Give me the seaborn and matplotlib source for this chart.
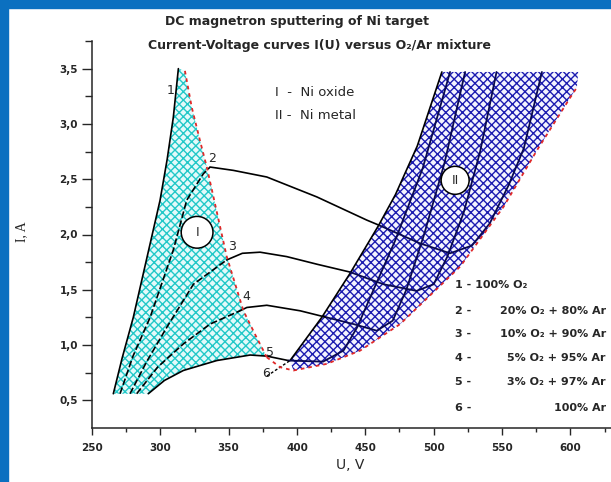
import matplotlib
matplotlib.use('Agg')
import matplotlib.pyplot as plt
import seaborn as sns
from matplotlib.patches import Rectangle

# ---------------- data ----------------
c1_x = [265.6, 272, 280.2, 290, 299.8, 305, 309.5, 313.2]
c1_y = [0.56, 0.88, 1.25, 1.78, 2.31, 2.68, 3.06, 3.50]

c2_dash_x = [270.5, 280, 292.5, 309.5, 319.3, 331.5, 336.4]
c2_dash_y = [0.56, 0.90, 1.25, 1.86, 2.31, 2.55, 2.61]
c2_solid_x = [336.4, 353.4, 377.9, 414.5, 451.1, 460.8]
c2_solid_y = [2.61, 2.58, 2.52, 2.34, 2.13, 2.08]
c2_metal_x = [460.8, 490, 512, 528, 541, 555, 566, 579.2]
c2_metal_y = [2.08, 1.92, 1.83, 1.90, 2.10, 2.45, 2.78, 3.47]

c3_dash_x = [277.8, 290, 304.7, 324.2, 348.6]
c3_dash_y = [0.56, 0.85, 1.16, 1.55, 1.77]
c3_solid_x = [348.6, 360, 373, 392.5, 415, 438.9]
c3_solid_y = [1.77, 1.83, 1.84, 1.80, 1.73, 1.66]
c3_metal_x = [438.9, 463.3, 487.6, 500, 510, 522, 534, 546]
c3_metal_y = [1.66, 1.55, 1.49, 1.55, 1.80, 2.20, 2.75, 3.47]

c4_dash_x = [282.7, 298, 316.8, 336.4, 358.3]
c4_dash_y = [0.56, 0.80, 1.01, 1.19, 1.31]
c4_solid_x = [358.3, 363.3, 377.9, 402.3, 421.8]
c4_solid_y = [1.31, 1.34, 1.36, 1.31, 1.25]
c4_metal_x = [421.8, 441.3, 458.4, 470, 480, 493, 508, 523]
c4_metal_y = [1.25, 1.19, 1.13, 1.22, 1.50, 2.00, 2.65, 3.47]

c5_oxide_x = [291.2, 303, 316.8, 341.3, 365.7, 378, 393.7]
c5_oxide_y = [0.56, 0.68, 0.77, 0.86, 0.91, 0.90, 0.86]
c5_metal_x = [393.7, 419, 434, 444, 456, 472, 492, 512]
c5_metal_y = [0.86, 0.85, 0.95, 1.16, 1.50, 1.95, 2.60, 3.47]

c6_dot_x = [378, 394.9]
c6_dot_y = [0.72, 0.86]
c6_x = [394.9, 418.1, 438.9, 459.6, 472, 488, 506]
c6_y = [0.86, 1.25, 1.65, 2.08, 2.36, 2.80, 3.47]

# red boundary of oxide region (top -> bottom)
red1_x = [318, 323, 329, 334, 348.6, 360.8, 370, 377.9]
red1_y = [3.48, 3.15, 2.85, 2.61, 1.80, 1.31, 1.08, 0.89]
# red boundary of metal region (bottom-left -> top-right)
red2_x = [377.9, 387.6, 397.4, 421.8, 446.2, 475.5, 519.4, 551.1, 575.5, 600, 604.8]
red2_y = [0.89, 0.80, 0.77, 0.83, 0.95, 1.19, 1.71, 2.25, 2.76, 3.24, 3.33]

metal_top_x = [605.8]
metal_top_y = [3.47]

curve_labels = ['1', '2', '3', '4', '5', '6']
curve_label_x = [307.8, 337.8, 352.5, 362.7, 380.3, 377.4]
curve_label_y = [3.30, 2.69, 1.89, 1.44, 0.93, 0.74]

legend_nums = ['1 - 100% O₂', '2 -', '3 -', '4 -', '5 -', '6 -']
legend_mix = ['', '20% O₂ + 80% Ar', '10% O₂ + 90% Ar', '5% O₂ + 95% Ar',
              '3% O₂ + 97% Ar', '100% Ar']

x_ticks = [250, 300, 350, 400, 450, 500, 550, 600]
x_minor = [275, 325, 375, 425, 475, 525, 575, 625]
y_ticks = [0.5, 1.0, 1.5, 2.0, 2.5, 3.0, 3.5]
y_minor = [0.75, 1.25, 1.75, 2.25, 2.75, 3.25, 3.75]
y_labels = ['0,5', '1,0', '1,5', '2,0', '2,5', '3,0', '3,5']

title1 = 'DC magnetron sputtering of Ni target'
title2 = 'Current-Voltage curves I(U) versus O₂/Ar mixture'

# ---------------- figure ----------------
sns.set_style('ticks')
plt.rcParams['font.family'] = ['DejaVu Sans']
plt.rcParams['hatch.linewidth'] = 1.0

W, H = 611, 482
fig = plt.figure(figsize=(W / 100, H / 100), dpi=100)
ax = fig.add_axes([92 / W, 54 / H, 533 / W, 387 / H])
ax.set_xlim(250, 640)
ax.set_ylim(0.25, 3.75)

# blue frame (top and left)
fig.add_artist(Rectangle((0, 1 - 8 / H), 1, 8 / H, transform=fig.transFigure,
                         color='#0B70C0', zorder=10))
fig.add_artist(Rectangle((0, 0), 8 / W, 1, transform=fig.transFigure,
                         color='#0B70C0', zorder=10))

# region I (oxide) polygon
reg1_x = c1_x + red1_x + c5_oxide_x[-2::-1]
reg1_y = c1_y + red1_y + c5_oxide_y[-2::-1]
ax.fill(reg1_x, reg1_y, facecolor='#e4fafa', edgecolor='#22c8c8', hatch='xxxx',
        linewidth=0, zorder=1)

# region II (metal) polygon
reg2_x = c6_x + metal_top_x + red2_x[:1:-1]
reg2_y = c6_y + metal_top_y + red2_y[:1:-1]
ax.fill(reg2_x, reg2_y, facecolor='#f4f4ff', edgecolor='#1c1cb0', hatch='xxxx',
        linewidth=0, zorder=1)

def line(xs, ys, color='black', ls='-', lw=1.2, z=3):
    sns.lineplot(x=xs, y=ys, sort=False, estimator=None, color=color,
                 linestyle=ls, linewidth=lw, ax=ax, zorder=z)

dash = (0, (4, 1.6))
line(c1_x, c1_y)
for xs, ys in [(c2_dash_x, c2_dash_y), (c3_dash_x, c3_dash_y), (c4_dash_x, c4_dash_y)]:
    line(xs, ys, ls=dash)
for xs, ys in [(c2_solid_x, c2_solid_y), (c3_solid_x, c3_solid_y),
               (c4_solid_x, c4_solid_y), (c5_oxide_x, c5_oxide_y), (c6_x, c6_y)]:
    line(xs, ys)
for xs, ys in [(c2_metal_x, c2_metal_y), (c3_metal_x, c3_metal_y),
               (c4_metal_x, c4_metal_y), (c5_metal_x, c5_metal_y)]:
    line(xs, ys, color='#0a0a50', lw=1.3)
line(c6_dot_x, c6_dot_y, ls=(0, (2, 1.5)), lw=1.0)
line(red1_x, red1_y, color='#e02828', ls=(0, (2, 2.2)), lw=1.3, z=4)
line(red2_x, red2_y, color='#e02828', ls=(0, (2, 2.2)), lw=1.3, z=4)

# curve labels
for t, x, y in zip(curve_labels, curve_label_x, curve_label_y):
    ax.text(x, y, t, fontsize=9, ha='center', va='center', zorder=6)

# region labels
ax.text(326.9, 2.02, 'I', fontsize=9, ha='center', va='center', zorder=6,
        bbox=dict(boxstyle='circle,pad=0.75', fc='white', ec='black', lw=1.1))
ax.text(515.7, 2.49, 'II', fontsize=9, ha='center', va='center', zorder=6,
        bbox=dict(boxstyle='circle,pad=0.6', fc='white', ec='black', lw=1.1))
ax.text(384, 3.28, 'I  -  Ni oxide', fontsize=9.5, ha='left', va='center')
ax.text(384, 3.08, 'II -  Ni metal', fontsize=9.5, ha='left', va='center')

# composition list
leg_y = [1.54, 1.31, 1.10, 0.88, 0.67, 0.43]
for num, mix, y in zip(legend_nums, legend_mix, leg_y):
    ax.text(515.7, y, num, fontsize=8, fontweight='bold', ha='left', va='center')
    if mix:
        ax.text(626, y, mix, fontsize=8, fontweight='bold', ha='right', va='center')

# axes styling
sns.despine(ax=ax)
ax.spines['left'].set_linewidth(1.1)
ax.spines['bottom'].set_linewidth(1.1)
ax.set_xticks(x_ticks)
ax.set_xticks(x_minor, minor=True)
ax.set_xticklabels([str(v) for v in x_ticks], fontsize=7.5, fontweight='bold')
ax.set_yticks(y_ticks)
ax.set_yticks(y_minor, minor=True)
ax.set_yticklabels(y_labels, fontsize=7.5, fontweight='bold')
ax.tick_params(axis='y', which='major', length=7, width=1, direction='out', pad=3)
ax.tick_params(axis='y', which='minor', length=5, width=1, direction='out')
ax.tick_params(axis='x', which='major', length=5, width=1, direction='out', pad=6)
ax.tick_params(axis='x', which='minor', length=3, width=1, direction='out')
ax.set_xlabel('')
ax.set_ylabel('')

fig.text(350 / W, 1 - 465 / H, 'U, V', fontsize=10, ha='center', va='center')
fig.text(22 / W, 1 - 232 / H, 'I, A', fontsize=10, ha='center', va='center',
         rotation=90, family=['Liberation Serif'])
fig.text(297 / W, 1 - 22 / H, title1, fontsize=9, fontweight='bold',
         ha='center', va='center')
fig.text(319 / W, 1 - 45 / H, title2, fontsize=9, fontweight='bold',
         ha='center', va='center')

fig.savefig('out.png', dpi=100)
